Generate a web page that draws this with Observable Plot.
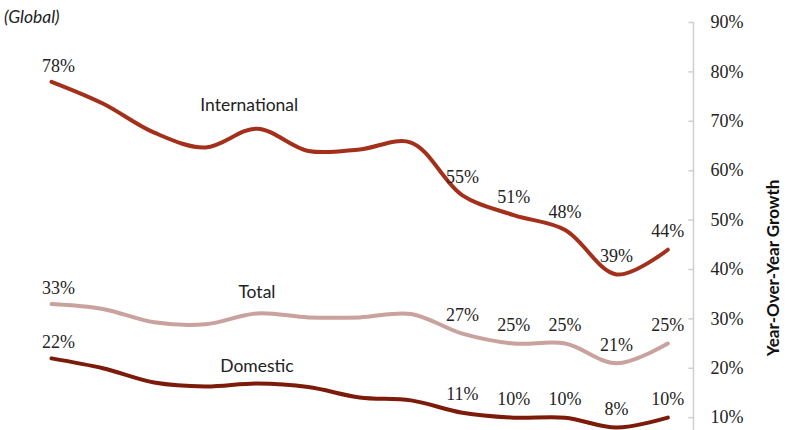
<!DOCTYPE html>
<html>
<head>
<meta charset="utf-8">
<script src="https://cdn.jsdelivr.net/npm/d3@7"></script>
<script src="https://cdn.jsdelivr.net/npm/@observablehq/plot@0.6"></script>
<style>
  html, body { margin: 0; padding: 0; background: #fff; }
  #chart { position: relative; width: 790px; height: 430px; }
  #note { position: absolute; left: 4px; top: 6px; font: italic 17.5px Lato, sans-serif; color: #222; }
  #chart svg text.num { font-family: "Liberation Serif", "Times New Roman", Times, "DejaVu Serif", "Noto Serif", FreeSerif, Tinos, serif !important; }
  #chart svg text.word { font-family: Lato, sans-serif !important; }
</style>
</head>
<body>
<div id="chart"><div id="note">(Global)</div></div>
<script>
// Period index (13 periods, unlabeled in the source)
const periods = [0, 1, 2, 3, 4, 5, 6, 7, 8, 9, 10, 11, 12];
const international = [78, 73.6, 67.7, 64.7, 68.5, 64, 64.3, 65.7, 55, 51, 48, 39, 44];
const total = [33, 32, 29.3, 28.9, 31.1, 30.3, 30.3, 31, 27, 25, 25, 21, 25];
const domestic = [22, 20, 17.1, 16.3, 16.9, 16.2, 14.1, 13.5, 11, 10, 10, 8, 10];
// indices of points that carry a value label
const labeledIdx = [8, 9, 10, 11, 12];
const firstIdx = [0];
const yTicks = [10, 20, 30, 40, 50, 60, 70, 80, 90];
const seriesNames = ["International", "Total", "Domestic"];
const seriesColors = ["#a3301b", "#c9a19d", "#7d1b0b"];
const seriesLabelPos = [{x: 3.85, y: 73.2}, {x: 4, y: 35.3}, {x: 4, y: 20.4}];

const allSeries = [international, total, domestic];
const rows = [];
allSeries.forEach((vals, s) => periods.forEach((p, i) => rows.push({series: seriesNames[s], period: p, value: vals[i], i})));
const labeled = rows.filter(d => labeledIdx.includes(d.i));
const firstLabeled = rows.filter(d => firstIdx.includes(d.i));
const nameRows = seriesNames.map((n, s) => ({name: n, x: seriesLabelPos[s].x, y: seriesLabelPos[s].y}));

const pct = d => Math.round(d.value) + "%";
const plot = Plot.plot({
  width: 790,
  height: 430,
  marginLeft: 51,
  marginRight: 97,
  marginTop: 22,
  marginBottom: 0,
  style: {background: "transparent", overflow: "visible"},
  x: {domain: [0, 12.5], axis: null},
  y: {domain: [7.4, 90], axis: null},
  color: {domain: seriesNames, range: seriesColors},
  marks: [
    Plot.ruleX([12.5], {y1: 7.4, y2: 90, stroke: "#cfcfcf", strokeWidth: 1.5}),
    Plot.ruleY(yTicks, {x1: 12.41, x2: 12.5, stroke: "#cfcfcf", strokeWidth: 1.5}),
    Plot.text(yTicks, {x: 12.5, y: d => d, text: d => d + "%", textAnchor: "start", dx: 17, fontSize: 18, fill: "#222"}),
    Plot.line(rows, {x: "period", y: "value", z: "series", stroke: "series", strokeWidth: 4, curve: "catmull-rom"}),
    Plot.text(labeled, {x: "period", y: "value", text: pct, dy: -18, fontSize: 18, fill: "#222"}),
    Plot.text(firstLabeled, {x: "period", y: "value", text: pct, dx: 7, dy: -16, fontSize: 18, fill: "#222"}),
    Plot.text(nameRows, {x: "x", y: "y", text: "name", fontSize: 17.5, fill: "#222"})
  ]
});
document.getElementById("chart").appendChild(plot);

const svg = d3.select(plot);
svg.selectAll("text").each(function() {
  this.classList.add(/%$/.test(this.textContent) ? "num" : "word");
});

// y-axis title (rotated), placed to the right of the tick labels
svg.append("text")
  .attr("class", "word")
  .attr("transform", "translate(775,268) rotate(-90)")
  .attr("text-anchor", "middle")
  .attr("dominant-baseline", "middle")
  .attr("font-weight", "bold")
  .attr("font-size", 17)
  .attr("fill", "#111")
  .text("Year-Over-Year Growth");
</script>
</body>
</html>
